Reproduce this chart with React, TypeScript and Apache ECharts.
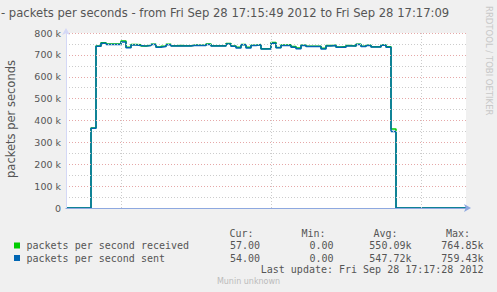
import React, { useEffect, useRef } from 'react';
import * as echarts from 'echarts';

const chartTitle = '- packets per seconds - from Fri Sep 28 17:15:49 2012 to Fri Sep 28 17:17:09';
const yAxisTitle = 'packets per seconds';
const watermark = 'RRDTOOL / TOBI OETIKER';
const footer = 'Munin unknown';
const lastUpdate = 'Last update: Fri Sep 28 17:17:28 2012';

// one value per second, starting 17:15:49
const sent = [
  0, 0, 0, 0, 0, 365000, 740000, 753000, 747000, 747000,
  747000, 759000, 733000, 745000, 743000, 740000, 743000, 747000, 735000, 738000,
  746000, 741000, 741000, 741000, 741000, 744000, 743000, 743000, 747000, 741000,
  741000, 741000, 750000, 740000, 732000, 746000, 732000, 743000, 746000, 727000,
  727000, 753000, 733000, 743000, 743000, 735000, 728000, 743000, 738000, 738000,
  738000, 727000, 741000, 743000, 735000, 735000, 741000, 740000, 747000, 738000,
  743000, 736000, 736000, 744000, 735000, 350000, 0, 0, 0, 0,
  0, 0, 0, 0, 0, 0, 0, 0, 0, 0,
];
const received = [
  0, 0, 0, 0, 0, 366000, 741000, 755000, 750000, 750000,
  750000, 764000, 735000, 748000, 746000, 741000, 744000, 749000, 736000, 740000,
  749000, 742000, 743000, 742000, 742000, 745000, 744000, 744000, 750000, 742000,
  742000, 742000, 752000, 741000, 735000, 747000, 735000, 744000, 747000, 728000,
  729000, 757000, 734000, 745000, 746000, 738000, 731000, 744000, 739000, 739000,
  739000, 730000, 743000, 744000, 736000, 738000, 743000, 741000, 749000, 739000,
  744000, 737000, 737000, 745000, 737000, 361000, 0, 0, 0, 0,
  0, 0, 0, 0, 0, 0, 0, 0, 0, 0,
];
const timeGridSeconds = [11, 41, 71]; // 17:16:00, 17:16:30, 17:17:00
const seriesNames = ['packets per second received', 'packets per second sent'];
const seriesColors = ['#00cc00', '#0066b3'];
const statHeaders = ['Cur:', 'Min:', 'Avg:', 'Max:'];
const receivedStats = ['57.00', '0.00', '550.09k', '764.85k'];
const sentStats = ['54.00', '0.00', '547.72k', '759.43k'];

const MONO = '10px "DejaVu Sans Mono"';
const TEXT = '#555555';

function toStepData(values: number[]) {
  const d = values.map((v, i) => [i, v]);
  d.push([values.length, values[values.length - 1]]);
  return d;
}

export default function App() {
  const ref = useRef<HTMLDivElement>(null);
  useEffect(() => {
    if (!ref.current) return;
    const chart = echarts.init(ref.current, undefined, { renderer: 'svg' });
    const headerRight = [253.5, 325.5, 397.5, 470];
    const valueRight = [260, 333.5, 411.5, 483.5];
    const graphic: any[] = [
      { type: 'text', x: 1, y: 13, style: { text: chartTitle, font: '11.6px "DejaVu Sans"', fill: TEXT, align: 'left', verticalAlign: 'middle' } },
      { type: 'text', x: 11, y: 119, rotation: Math.PI / 2, style: { text: yAxisTitle, font: '11.5px "DejaVu Sans"', fill: TEXT, align: 'center', verticalAlign: 'middle' } },
      { type: 'text', x: 488.5, y: 6, rotation: -Math.PI / 2, style: { text: watermark, font: '8.5px "DejaVu Sans"', fill: '#c8c8c8', align: 'left', verticalAlign: 'middle' } },
      { type: 'text', x: 248.5, y: 281, style: { text: footer, font: '8px "DejaVu Sans"', fill: '#bbbbbb', align: 'center', verticalAlign: 'middle' } },
      { type: 'text', x: 483.5, y: 269.5, style: { text: lastUpdate, font: MONO, fill: TEXT, align: 'right', verticalAlign: 'middle' } },
    ];
    statHeaders.forEach((h, i) => {
      graphic.push({ type: 'text', x: headerRight[i], y: 233, style: { text: h, font: MONO, fill: TEXT, align: 'right', verticalAlign: 'middle' } });
    });
    [receivedStats, sentStats].forEach((row, r) => {
      const y = 245.5 + r * 12.5;
      graphic.push({ type: 'rect', shape: { x: 14, y: y - 3, width: 6, height: 6 }, style: { fill: seriesColors[r] } });
      graphic.push({ type: 'text', x: 26.5, y, style: { text: seriesNames[r], font: MONO, fill: TEXT, align: 'left', verticalAlign: 'middle' } });
      row.forEach((v, i) => {
        graphic.push({ type: 'text', x: valueRight[i], y, style: { text: v, font: MONO, fill: TEXT, align: 'right', verticalAlign: 'middle' } });
      });
    });

    chart.setOption({
      animation: false,
      backgroundColor: '#f0f0f0',
      grid: { left: 66, top: 33, width: 400, height: 175, show: true, backgroundColor: '#ffffff', borderWidth: 0, containLabel: false },
      xAxis: {
        type: 'value', min: 0, max: sent.length, z: 3,
        axisLabel: { show: false }, axisTick: { show: false }, splitLine: { show: false },
        axisLine: { show: true, lineStyle: { color: '#8ea8e0', width: 1.2 }, symbol: ['none', 'arrow'], symbolSize: [6, 7], symbolOffset: [0, 5] },
      },
      yAxis: {
        type: 'value', min: 0, max: 800000, interval: 100000, z: 3,
        axisLabel: {
          color: TEXT, fontFamily: 'DejaVu Sans', fontSize: 9.5, margin: 5,
          formatter: (v: number) => (v === 0 ? '0' : v / 1000 + ' k'),
        },
        axisTick: { show: false },
        axisLine: { show: true, lineStyle: { color: '#d4d8f6', width: 1 }, symbol: ['none', 'arrow'], symbolSize: [6, 7], symbolOffset: [0, 5] },
        splitLine: { show: true, lineStyle: { color: '#e6a8a8', type: [1, 2], width: 1 } },
        minorTick: { show: false, splitNumber: 2 },
        minorSplitLine: { show: true, lineStyle: { color: '#cccccc', type: [1, 2], width: 1 } },
      },
      series: [
        {
          type: 'line', name: 'grid', data: [], silent: true,
          markLine: {
            silent: true, symbol: ['none', 'none'], label: { show: false },
            lineStyle: { color: '#cccccc', type: [1, 2], width: 1 },
            data: timeGridSeconds.map((s) => ({ xAxis: s })),
          },
        },
        {
          type: 'line', name: seriesNames[0], data: toStepData(received), step: 'end', showSymbol: false,
          lineStyle: { color: seriesColors[0], width: 1.5 }, z: 2,
        },
        {
          type: 'line', name: seriesNames[1], data: toStepData(sent), step: 'end', showSymbol: false,
          lineStyle: { color: seriesColors[1], width: 1.5 }, z: 2,
        },
      ],
      graphic,
    });
    return () => chart.dispose();
  }, []);
  return <div ref={ref} style={{ position: 'fixed', left: 0, top: 0, width: 497, height: 292 }} />;
}
